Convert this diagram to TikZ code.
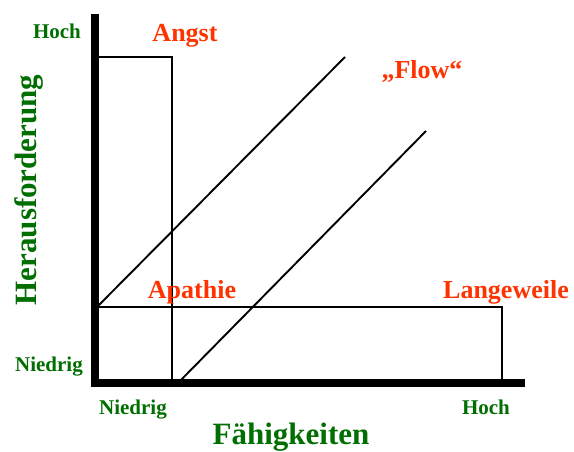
\documentclass[tikz,border=0pt]{standalone}
\usepackage{fontspec}
\setmainfont{Liberation Serif}
\usetikzlibrary{positioning}
\definecolor{lblGreen}{RGB}{0,110,0}
\definecolor{lblRed}{RGB}{255,51,0}

\begin{document}
\begin{tikzpicture}[
    x=1pt, y=-1pt,
    axis/.style={line width=8pt, black},
    zone/.style={line width=1.9pt, black},
    levellbl/.style={font=\bfseries\fontsize{21}{21}\selectfont, text=lblGreen, inner sep=0pt, anchor=base},
    axistitle/.style={font=\bfseries\fontsize{31}{31}\selectfont, text=lblGreen, inner sep=0pt, anchor=base},
    statelbl/.style={font=\bfseries\fontsize{26}{26}\selectfont, text=lblRed, inner sep=0pt, anchor=base}
]
\useasboundingbox (0,0) rectangle (574,452);

% Achsenpunkte
\coordinate (ytop) at (95,14);
\coordinate (orig) at (95,383);
\coordinate (xend) at (525,383);

% Zonen
\coordinate (angstTL) at (95,57);
\coordinate (angstTR) at (172,57);
\coordinate (angstB) at (172,383);
\coordinate (langL) at (95,307);
\coordinate (langR) at (502,307);
\coordinate (langB) at (502,383);

% Flow-Kanal
\coordinate (flowA1) at (97,307);
\coordinate (flowA2) at (345,57);
\coordinate (flowB1) at (178,383);
\coordinate (flowB2) at (426,131);

% Zonenlinien
\draw[zone] (angstTL) -- (angstTR) -- (angstB);
\draw[zone] (langL) -- (langR) -- (langB);
\draw[zone] (flowA1) -- (flowA2);
\draw[zone] (flowB1) -- (flowB2);

% Achsen
\draw[axis] (ytop) -- (orig) -- (xend);

% Achsenbeschriftung
\node[levellbl] (yhoch) at (57,39) {Hoch};
\node[levellbl] (yniedrig) at (49,371) {Niedrig};
\node[levellbl] (xniedrig) at (133,414) {Niedrig};
\node[levellbl] (xhoch) at (486,414) {Hoch};
\node[axistitle] (xtitle) at (291,444) {Fähigkeiten};
\node[axistitle, rotate=90] (ytitle) at (37,190) {Herausforderung};

% Zustände
\node[statelbl] (angst) at (185,42) {Angst};
\node[statelbl] (flow) at (422,79) {„Flow“};
\node[statelbl] (apathie) at (192,298) {Apathie};
\node[statelbl] (langeweile) at (506,298) {Langeweile};

\end{tikzpicture}
\end{document}
